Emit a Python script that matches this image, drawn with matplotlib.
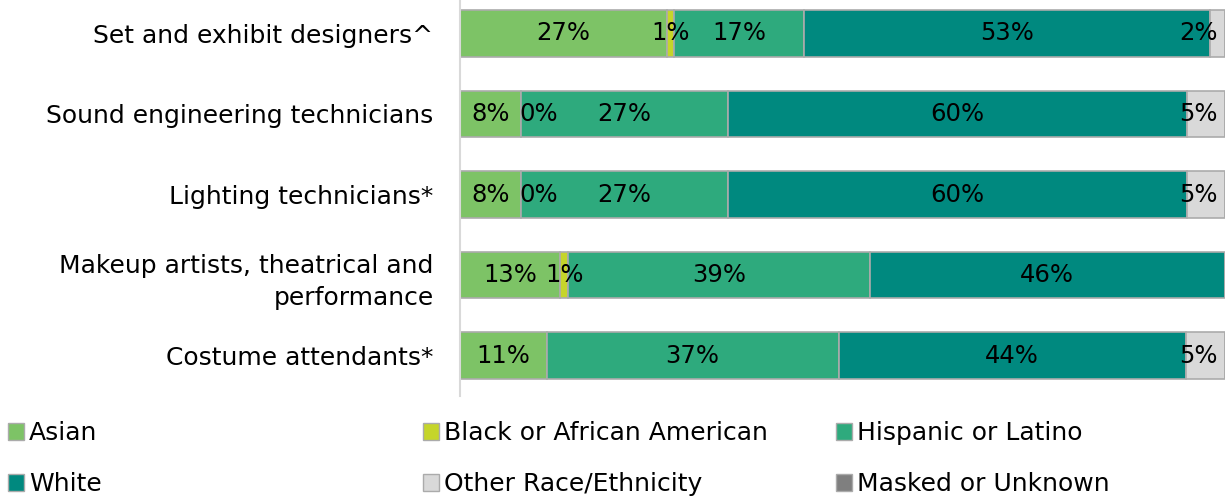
import numpy as np
import matplotlib
matplotlib.use("Agg")
import matplotlib.pyplot as plt
from matplotlib.patches import Patch

plt.rcParams['font.family'] = ['DejaVu Sans']

categories = ["Set and exhibit designers^",
              "Sound engineering technicians",
              "Lighting technicians*",
              "Makeup artists, theatrical and\nperformance",
              "Costume attendants*"]
series_names = ["Asian", "Black or African American", "Hispanic or Latino",
                "White", "Other Race/Ethnicity", "Masked or Unknown"]
nan = np.nan
asian    = [27, 8, 8, 13, 11]
black    = [1, 0, 0, 1, nan]
hispanic = [17, 27, 27, 39, 37]
white    = [53, 60, 60, 46, 44]
other    = [2, 5, 5, nan, 5]
masked   = [nan, nan, nan, nan, nan]
colors = ["#7DC366", "#C5D52A", "#2EAA7D", "#00897F", "#D9D9D9", "#7F7F7F"]

data = np.array([asian, black, hispanic, white, other, masked], dtype=float)
vals = np.nan_to_num(data)
totals = vals.sum(axis=0)
widths = vals / totals * 100

W, H = 1225, 497
fig = plt.figure(figsize=(W / 100, H / 100), dpi=100)
ax = fig.add_axes([460 / W, 1 - 396 / H, 1 - 460 / W, 403 / H])

y = np.arange(len(categories))
left = np.zeros(len(categories))
FS = 18
FSD = 17.5
for i, name in enumerate(series_names):
    ax.barh(y, widths[i], left=left, height=0.58, color=colors[i],
            edgecolor="#ABABAB", linewidth=1.2, label=name)
    for j in range(len(categories)):
        v = data[i, j]
        if np.isnan(v):
            continue
        w = widths[i, j]
        x0 = left[j]
        txt = f"{v:.0f}%"
        if w == 0:
            ax.text(x0 - 0.2, j, txt, ha="left", va="center", fontsize=FSD, color="black")
        elif x0 + w > 99 and w < 8:
            ax.text(99.1, j, txt, ha="right", va="center", fontsize=FSD, color="black")
        else:
            ax.text(x0 + w / 2, j, txt, ha="center", va="center", fontsize=FSD, color="black")
    left = left + widths[i]

ax.set_xlim(0, 100)
ax.set_ylim(len(categories) - 0.5, -0.5)
ax.set_yticks(y)
ax.set_yticklabels(categories, fontsize=FS, linespacing=1.45)
ax.tick_params(axis="y", length=0, pad=19)
ax.set_xticks([])
for s in ["top", "right", "bottom"]:
    ax.spines[s].set_visible(False)
ax.spines["left"].set_color("#D9D9D9")
ax.spines["left"].set_linewidth(1.5)
ax.patch.set_alpha(0)

# legend: three columns, each a separate legend
handles = [Patch(facecolor=c, edgecolor="#ABABAB", linewidth=1.0) for c in colors]
col_x = [8, 423, 836]
order = [[0, 3], [1, 4], [2, 5]]
for cx, idx in zip(col_x, order):
    lg = fig.legend([handles[k] for k in idx], [series_names[k] for k in idx],
                    loc="upper left", bbox_to_anchor=(cx / W, 1 - 421 / H),
                    frameon=False, fontsize=FS, handlelength=0.65, handleheight=0.65,
                    handletextpad=0.2, labelspacing=1.08, borderpad=0, borderaxespad=0)

fig.savefig("out.png", dpi=100)
